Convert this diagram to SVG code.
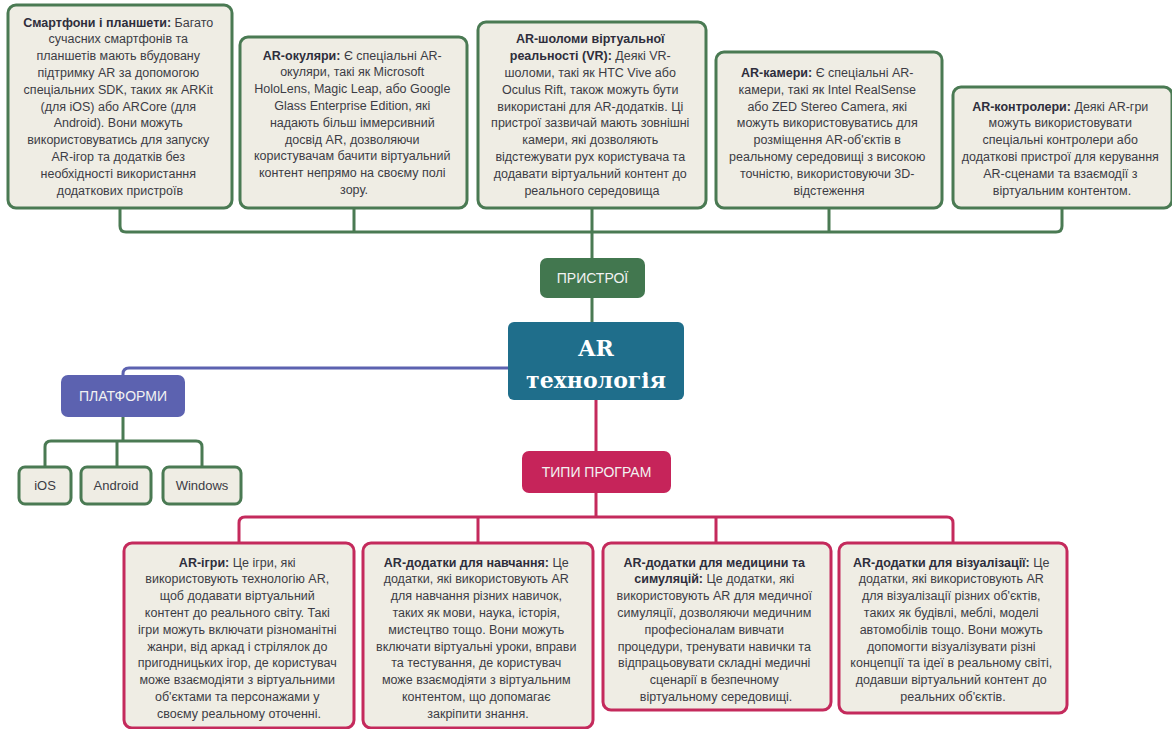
<svg xmlns="http://www.w3.org/2000/svg" width="1172" height="729" viewBox="0 0 1172 729">
<style>
.card{fill:#efede4;stroke-width:3}
.g{stroke:#4a7a53}
.r{stroke:#c42a5c}
.t{font-family:"Liberation Sans",Arial,sans-serif;font-size:12.5px;fill:#3c3c44;text-anchor:middle}
.t .b{font-weight:bold;fill:#2e2e3c}
.lbl{font-family:"Liberation Sans",Arial,sans-serif;font-size:14px;fill:#f2f2f2;text-anchor:middle}
.sm{font-family:"Liberation Sans",Arial,sans-serif;font-size:13px;fill:#3c3c44;text-anchor:middle}
.cg{fill:none;stroke:#4a7a53;stroke-width:3;stroke-linejoin:round}
.cp{fill:none;stroke:#5c62b0;stroke-width:3}
.cr{fill:none;stroke:#c42a5c;stroke-width:3}
</style>
<rect width="1172" height="729" fill="#ffffff"/>
<g id="connectors">
  <!-- devices -->
  <path class="cg" d="M120 208 V226 Q120 232 126 232 H1056 Q1062 232 1062 226 V208"/>
  <path class="cg" d="M354 208 V232 M592 208 V258 M829 208 V232 M592 298 V322"/>
  <!-- platforms -->
  <path class="cp" d="M508 368 H129 Q123 368 123 374 V376"/>
  <path class="cg" d="M123 417 V441 M45 467 V447 Q45 441 51 441 H196 Q202 441 202 447 V467 M117 441 V467"/>
  <!-- program types -->
  <path class="cr" d="M596 400 V451 M596 493 V517"/>
  <path class="cr" d="M239 543 V523 Q239 517 245 517 H947 Q953 517 953 523 V543 M478 517 V543 M716 517 V543"/>
</g>

<g id="center">
  <rect x="508" y="322" width="176" height="78" rx="6" fill="#1f6e8b"/>
  <text x="596" y="356" font-family="'DejaVu Serif',serif" font-weight="bold" font-size="22" fill="#ffffff" text-anchor="middle">AR</text>
  <text x="596" y="388" font-family="'DejaVu Serif',serif" font-weight="bold" font-size="22" fill="#ffffff" text-anchor="middle">технологія</text>
</g>

<g id="devices">
  <rect x="540" y="258" width="105" height="40" rx="7" fill="#42774f"/>
  <text class="lbl" x="592.5" y="283">ПРИСТРОЇ</text>
</g>

<g id="platforms">
  <rect x="61" y="375" width="124" height="42" rx="7" fill="#5c62b0"/>
  <text class="lbl" x="123" y="401">ПЛАТФОРМИ</text>
</g>

<g id="ios">
  <rect class="card g" x="19" y="467" width="52" height="37" rx="6"/>
  <text class="sm" x="45" y="490">iOS</text>
</g>
<g id="android">
  <rect class="card g" x="81" y="467" width="70" height="37" rx="6"/>
  <text class="sm" x="116" y="490">Android</text>
</g>
<g id="windows">
  <rect class="card g" x="163" y="467" width="78" height="37" rx="6"/>
  <text class="sm" x="202" y="490">Windows</text>
</g>

<g id="program-types">
  <rect x="522" y="451" width="149" height="42" rx="7" fill="#c6245a"/>
  <text class="lbl" x="596.5" y="477">ТИПИ ПРОГРАМ</text>
</g>

<g id="smartphones">
  <rect class="card g" x="8" y="5" width="224" height="203" rx="8"/>
  <text class="t">
    <tspan x="120" y="26.5"><tspan class="b">Смартфони і планшети:</tspan> Багато</tspan>
    <tspan x="120" dy="16.8">сучасних смартфонів та</tspan>
    <tspan x="120" dy="16.8">планшетів мають вбудовану</tspan>
    <tspan x="120" dy="16.8">підтримку AR за допомогою</tspan>
    <tspan x="120" dy="16.8">спеціальних SDK, таких як ARKit</tspan>
    <tspan x="120" dy="16.8">(для iOS) або ARCore (для</tspan>
    <tspan x="120" dy="16.8">Android). Вони можуть</tspan>
    <tspan x="120" dy="16.8">використовуватись для запуску</tspan>
    <tspan x="120" dy="16.8">AR-ігор та додатків без</tspan>
    <tspan x="120" dy="16.8">необхідності використання</tspan>
    <tspan x="120" dy="16.8">додаткових пристроїв</tspan>
  </text>
</g>

<g id="glasses">
  <rect class="card g" x="240" y="37" width="227" height="171" rx="8"/>
  <text class="t">
    <tspan x="354" y="59.5"><tspan class="b">AR-окуляри:</tspan> Є спеціальні AR-</tspan>
    <tspan x="354" dy="16.8">окуляри, такі як Microsoft</tspan>
    <tspan x="354" dy="16.8">HoloLens, Magic Leap, або Google</tspan>
    <tspan x="354" dy="16.8">Glass Enterprise Edition, які</tspan>
    <tspan x="354" dy="16.8">надають більш іммерсивний</tspan>
    <tspan x="354" dy="16.8">досвід AR, дозволяючи</tspan>
    <tspan x="354" dy="16.8">користувачам бачити віртуальний</tspan>
    <tspan x="354" dy="16.8">контент непрямо на своєму полі</tspan>
    <tspan x="354" dy="16.8">зору.</tspan>
  </text>
</g>

<g id="helmets">
  <rect class="card g" x="478" y="22" width="228" height="186" rx="8"/>
  <text class="t">
    <tspan x="592" y="43.3" class="b">AR-шоломи віртуальної</tspan>
    <tspan x="592" dy="16.8"><tspan class="b">реальності (VR):</tspan> Деякі VR-</tspan>
    <tspan x="592" dy="16.8">шоломи, такі як HTC Vive або</tspan>
    <tspan x="592" dy="16.8">Oculus Rift, також можуть бути</tspan>
    <tspan x="592" dy="16.8">використані для AR-додатків. Ці</tspan>
    <tspan x="592" dy="16.8">пристрої зазвичай мають зовнішні</tspan>
    <tspan x="592" dy="16.8">камери, які дозволяють</tspan>
    <tspan x="592" dy="16.8">відстежувати рух користувача та</tspan>
    <tspan x="592" dy="16.8">додавати віртуальний контент до</tspan>
    <tspan x="592" dy="16.8">реального середовища</tspan>
  </text>
</g>

<g id="cameras">
  <rect class="card g" x="716" y="52" width="226" height="156" rx="8"/>
  <text class="t">
    <tspan x="829" y="76.9"><tspan class="b">AR-камери:</tspan> Є спеціальні AR-</tspan>
    <tspan x="829" dy="16.8">камери, такі як Intel RealSense</tspan>
    <tspan x="829" dy="16.8">або ZED Stereo Camera, які</tspan>
    <tspan x="829" dy="16.8">можуть використовуватись для</tspan>
    <tspan x="829" dy="16.8">розміщення AR-об'єктів в</tspan>
    <tspan x="829" dy="16.8">реальному середовищі з високою</tspan>
    <tspan x="829" dy="16.8">точністю, використовуючи 3D-</tspan>
    <tspan x="829" dy="16.8">відстеження</tspan>
  </text>
</g>

<g id="controllers">
  <rect class="card g" x="953" y="87" width="219" height="121" rx="8"/>
  <text class="t">
    <tspan x="1062" y="110.5"><tspan class="b">AR-контролери:</tspan> Деякі AR-гри</tspan>
    <tspan x="1062" dy="16.8">можуть використовувати</tspan>
    <tspan x="1062" dy="16.8">спеціальні контролери або</tspan>
    <tspan x="1062" dy="16.8">додаткові пристрої для керування</tspan>
    <tspan x="1062" dy="16.8">AR-сценами та взаємодії з</tspan>
    <tspan x="1062" dy="16.8">віртуальним контентом.</tspan>
  </text>
</g>

<g id="games">
  <rect class="card r" x="124" y="543" width="230" height="185" rx="8"/>
  <text class="t">
    <tspan x="239" y="566.5"><tspan class="b">AR-ігри:</tspan> Це ігри, які</tspan>
    <tspan x="239" dy="16.8">використовують технологію AR,</tspan>
    <tspan x="239" dy="16.8">щоб додавати віртуальний</tspan>
    <tspan x="239" dy="16.8">контент до реального світу. Такі</tspan>
    <tspan x="239" dy="16.8">ігри можуть включати різноманітні</tspan>
    <tspan x="239" dy="16.8">жанри, від аркад і стрілялок до</tspan>
    <tspan x="239" dy="16.8">пригодницьких ігор, де користувач</tspan>
    <tspan x="239" dy="16.8">може взаємодіяти з віртуальними</tspan>
    <tspan x="239" dy="16.8">об'єктами та персонажами у</tspan>
    <tspan x="239" dy="16.8">своєму реальному оточенні.</tspan>
  </text>
</g>

<g id="education">
  <rect class="card r" x="363" y="543" width="230" height="185" rx="8"/>
  <text class="t">
    <tspan x="478" y="566.5"><tspan class="b">AR-додатки для навчання:</tspan> Це</tspan>
    <tspan x="478" dy="16.8">додатки, які використовують AR</tspan>
    <tspan x="478" dy="16.8">для навчання різних навичок,</tspan>
    <tspan x="478" dy="16.8">таких як мови, наука, історія,</tspan>
    <tspan x="478" dy="16.8">мистецтво тощо. Вони можуть</tspan>
    <tspan x="478" dy="16.8">включати віртуальні уроки, вправи</tspan>
    <tspan x="478" dy="16.8">та тестування, де користувач</tspan>
    <tspan x="478" dy="16.8">може взаємодіяти з віртуальним</tspan>
    <tspan x="478" dy="16.8">контентом, що допомагає</tspan>
    <tspan x="478" dy="16.8">закріпити знання.</tspan>
  </text>
</g>

<g id="medicine">
  <rect class="card r" x="603" y="543" width="228" height="167" rx="8"/>
  <text class="t">
    <tspan x="716" y="566.5" class="b">AR-додатки для медицини та</tspan>
    <tspan x="716" dy="16.8"><tspan class="b">симуляцій:</tspan> Це додатки, які</tspan>
    <tspan x="716" dy="16.8">використовують AR для медичної</tspan>
    <tspan x="716" dy="16.8">симуляції, дозволяючи медичним</tspan>
    <tspan x="716" dy="16.8">професіоналам вивчати</tspan>
    <tspan x="716" dy="16.8">процедури, тренувати навички та</tspan>
    <tspan x="716" dy="16.8">відпрацьовувати складні медичні</tspan>
    <tspan x="716" dy="16.8">сценарії в безпечному</tspan>
    <tspan x="716" dy="16.8">віртуальному середовищі.</tspan>
  </text>
</g>

<g id="visualization">
  <rect class="card r" x="839" y="543" width="228" height="170" rx="8"/>
  <text class="t">
    <tspan x="953" y="566.5"><tspan class="b">AR-додатки для візуалізації:</tspan> Це</tspan>
    <tspan x="953" dy="16.8">додатки, які використовують AR</tspan>
    <tspan x="953" dy="16.8">для візуалізації різних об'єктів,</tspan>
    <tspan x="953" dy="16.8">таких як будівлі, меблі, моделі</tspan>
    <tspan x="953" dy="16.8">автомобілів тощо. Вони можуть</tspan>
    <tspan x="953" dy="16.8">допомогти візуалізувати різні</tspan>
    <tspan x="953" dy="16.8">концепції та ідеї в реальному світі,</tspan>
    <tspan x="953" dy="16.8">додавши віртуальний контент до</tspan>
    <tspan x="953" dy="16.8">реальних об'єктів.</tspan>
  </text>
</g>
</svg>
